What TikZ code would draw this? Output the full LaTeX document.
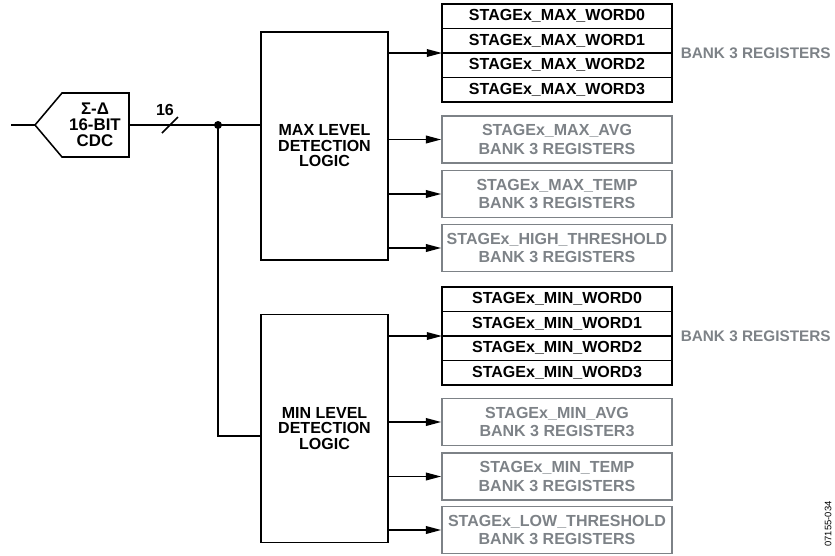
\documentclass[tikz,border=0pt]{standalone}
\usepackage{fontspec}
\setmainfont{Liberation Sans}
\usetikzlibrary{positioning,arrows.meta}
\definecolor{grigio}{RGB}{125,130,135}
\begin{document}
\begin{tikzpicture}[x=0.025cm,y=-0.025cm,line width=1.1pt,
        font=\bfseries\fontsize{11.4}{11}\selectfont,
        logica/.style={draw,minimum width=3.175cm,minimum height=5.7cm,align=center,inner sep=0pt},
        parola/.style={draw,minimum width=5.75cm,minimum height=0.6125cm,inner sep=0pt,outer sep=0pt},
        registro/.style={draw=grigio,text=grigio,minimum width=5.75cm,minimum height=1.175cm,inner sep=0pt,align=center,font=\bfseries\fontsize{11.4}{13}\selectfont},
        banco/.style={text=grigio,anchor=west,inner sep=0pt,font=\bfseries\fontsize{10.9}{11}\selectfont},
        freccia/.style={-{Triangle[length=0.38cm,width=0.19cm]}}]
        \useasboundingbox (0,0) rectangle (835,555);
        %blocco CDC
            \coordinate (ingresso) at (11,125);
            \coordinate (punta) at (35,125);
            \coordinate (uscita) at (129,125);
            \draw (punta)--(62,93)--(129,93)--(129,157)--(62,157)--cycle;
            \node[align=center,font=\bfseries\fontsize{12}{11.5}\selectfont] (cdc) at (95,125) {Σ-Δ\\16-BIT\\CDC};
            \draw (ingresso)--(punta);
        %blocchi logici
            \node[logica] (maxlogic) at (324.5,146) {MAX LEVEL\\DETECTION\\LOGIC};
            \node[logica] (minlogic) at (324.5,428.5) {MIN LEVEL\\DETECTION\\LOGIC};
        %bus a 16 bit
            \coordinate (nodo) at (218,125);
            \coordinate (gomito) at (218,436);
            \draw (uscita)--(nodo)--(nodo -| maxlogic.west);
            \draw (nodo)--(gomito)--(gomito -| minlogic.west);
            \fill (nodo) circle (4);
            \draw (162,133)--(178,117);
            \node (bit) at (165,110) {16};
        %registri max
            \node[parola] (maxw0) at (557,16.25) {STAGEx\_MAX\_WORD0};
            \node[parola,below=0pt of maxw0] (maxw1) {STAGEx\_MAX\_WORD1};
            \node[parola,below=0pt of maxw1] (maxw2) {STAGEx\_MAX\_WORD2};
            \node[parola,below=0pt of maxw2] (maxw3) {STAGEx\_MAX\_WORD3};
            \node[banco] (bancomax) at (680,53) {BANK 3 REGISTERS};
            \node[registro] (maxavg) at (557,139.5) {STAGEx\_MAX\_AVG\\BANK 3 REGISTERS};
            \node[registro] (maxtemp) at (557,194) {STAGEx\_MAX\_TEMP\\BANK 3 REGISTERS};
            \node[registro] (maxsoglia) at (557,248) {STAGEx\_HIGH\_THRESHOLD\\BANK 3 REGISTERS};
        %registri min
            \node[parola] (minw0) at (557,299.25) {STAGEx\_MIN\_WORD0};
            \node[parola,below=0pt of minw0] (minw1) {STAGEx\_MIN\_WORD1};
            \node[parola,below=0pt of minw1] (minw2) {STAGEx\_MIN\_WORD2};
            \node[parola,below=0pt of minw2] (minw3) {STAGEx\_MIN\_WORD3};
            \node[banco] (bancomin) at (680,336) {BANK 3 REGISTERS};
            \node[registro] (minavg) at (557,422) {STAGEx\_MIN\_AVG\\BANK 3 REGISTER3};
            \node[registro] (mintemp) at (557,476.5) {STAGEx\_MIN\_TEMP\\BANK 3 REGISTERS};
            \node[registro] (minsoglia) at (557,530) {STAGEx\_LOW\_THRESHOLD\\BANK 3 REGISTERS};
        %frecce
            \draw[freccia] (maxlogic.east |- maxw1.south)--(maxw1.south west);
            \draw[freccia] (maxlogic.east |- maxavg)--(maxavg.west);
            \draw[freccia] (maxlogic.east |- maxtemp)--(maxtemp.west);
            \draw[freccia] (maxlogic.east |- maxsoglia)--(maxsoglia.west);
            \draw[freccia] (minlogic.east |- minw1.south)--(minw1.south west);
            \draw[freccia] (minlogic.east |- minavg)--(minavg.west);
            \draw[freccia] (minlogic.east |- mintemp)--(mintemp.west);
            \draw[freccia] (minlogic.east |- minsoglia)--(minsoglia.west);
        %codice figura
            \node[rotate=90,font=\fontsize{6.7}{7}\selectfont] (codice) at (828,524) {07155-034};
        \end{tikzpicture}
\end{document}
